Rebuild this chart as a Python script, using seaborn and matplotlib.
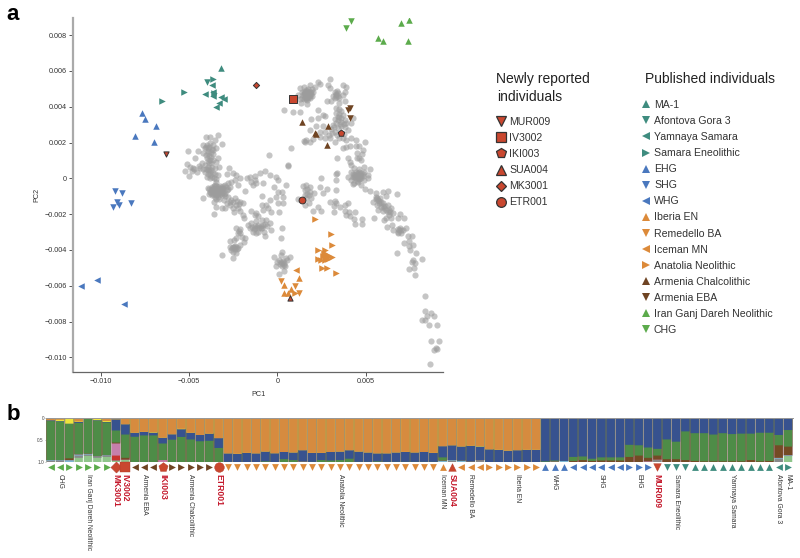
import matplotlib
matplotlib.use("Agg")
import matplotlib.pyplot as plt
from matplotlib.lines import Line2D
from matplotlib.ticker import FuncFormatter
import numpy as np
import pandas as pd
import seaborn as sns

# ---------- PCA values, in units of 0.001 ----------
grey_north = [(1.26,5.03),(1.48,5.12),(1.86,5.21),(2.10,5.12),(2.29,5.40),(2.39,5.27),(1.16,4.65),(1.30,4.41),(1.35,4.23),(1.67,4.13),
 (1.48,4.84),(1.60,4.93),(1.73,4.97),(1.82,4.84),(1.92,4.71),(2.01,4.84),(1.45,4.65),(1.54,4.56),(1.67,4.71),(1.78,4.60),(1.63,4.41),
 (1.86,4.47),(1.41,4.47),(1.56,4.78),(1.71,4.82),(1.75,4.47),(1.97,4.60),(1.62,4.62),(1.70,4.55),(1.58,4.70),(1.52,4.45),(1.80,4.72),(1.66,4.88),
 (2.99,5.53),(2.86,5.21),(2.95,5.03),(3.70,5.21),(3.89,5.08),(3.85,4.84),(3.23,4.84),(3.33,4.71),(3.14,4.60),(3.23,4.47),(3.42,4.60),
 (3.70,4.65),(3.04,4.34),(2.80,4.34),(3.48,4.23),(3.80,4.32),(3.36,4.90),(3.29,4.64),
 (1.55,4.85),(1.65,4.78),(1.72,4.68),(1.85,4.62),(1.50,4.72),(1.60,4.50),(1.70,4.38),(1.90,4.85),(1.40,4.80),(1.95,5.00),(3.30,4.55),(3.40,4.78),(3.50,4.50)]
grey_middle = [(0.39,3.82),(0.88,3.72),(1.30,3.72),(2.29,3.82),(3.33,3.95),(3.48,3.86),(3.61,3.78),(3.33,3.63),(2.57,3.54),(2.67,3.50),
 (2.29,3.39),(1.88,3.30),(3.23,3.32),(3.51,3.45),(3.70,3.54),(3.80,3.26),(3.61,3.17),(3.33,3.07),(3.14,2.98),(4.27,3.35),(4.17,3.07),
 (3.89,3.07),(3.80,2.89),(2.20,2.93),(2.57,2.93),(1.82,2.70),(2.39,2.61),(2.67,2.61),(3.04,2.74),(3.23,2.61),(3.98,2.70),(2.39,2.33),
 (2.67,2.24),(2.95,2.24),(3.23,2.05),(3.70,2.24),(3.89,2.14),(4.17,2.24),(4.42,2.14),(1.63,2.14),(1.82,2.05),(2.01,2.18),(1.54,2.05),
 (0.79,1.72),(0.60,0.73),(3.36,1.12),(4.98,2.01),(4.45,1.81),(4.64,1.81),(4.83,1.59),(3.70,1.72),(3.89,1.73),(4.08,1.81),(4.79,1.36),
 (4.49,1.40),(4.64,1.12),(4.49,1.12),(4.74,1.03),(3.98,1.12),(4.12,0.93),(4.17,0.75),(4.92,0.66),(5.24,0.53),
 (3.50,3.60),(3.60,3.40),(3.45,3.25),(3.40,3.45),(3.55,3.05),(3.75,3.05),(3.60,2.90),(3.45,2.80),(3.20,2.85),(3.10,2.55),(2.90,2.45),(3.35,2.40),(3.50,2.25),(3.75,2.50)]
grey_east = [(3.98,0.10),(4.17,0.38),(4.36,0.56),(4.64,0.51),(4.92,0.38),(5.11,0.19),(4.17,-0.09),(4.36,-0.27),(4.74,-0.37),(4.30,-0.30),
 (4.36,0.19),(4.55,0.28),(4.64,0.10),(4.45,0.00),(4.74,0.00),(4.55,-0.18),(4.27,0.10),(4.83,0.14),(4.42,0.38),(4.74,0.28),(4.60,-0.05),
 (4.92,-0.09),(5.11,0.00),(4.50,0.12),(4.58,0.20),(4.40,0.08),(4.68,0.18),
 (1.45,-0.43),(1.64,-0.37),(1.86,-0.50),(1.54,-0.65),(1.82,-0.74),(2.05,-0.80),(1.17,-1.17),(1.64,-1.12),(1.92,-1.12),(1.79,-1.40),
 (1.54,-1.49),(2.01,-1.81),(2.29,-1.58),(2.48,-1.81),(2.48,0.00),(2.39,-0.47),(2.58,-0.80),(2.80,-0.61),(3.29,0.24),(3.38,0.31),(3.33,-0.09),
 (3.29,-0.65),(2.99,-1.30),(3.23,-1.25),(3.33,-1.40),(3.18,-1.55),(3.52,-1.58),(3.80,-1.49),(3.99,-1.40),(3.20,-1.90),(3.80,-1.81),
 (4.04,-1.86),(3.89,-2.05),(4.08,-2.10),(4.38,-1.90),(4.36,-2.29),(4.38,-2.57),(4.77,-2.29),(4.77,-2.57),
 (4.45,0.25),(4.55,0.15),(4.35,0.05),(4.62,-0.02),(4.75,0.12),(4.48,-0.12),(4.30,0.25),(4.85,0.25),(4.60,0.35),(1.70,-0.60),(1.65,-0.85),(1.80,-0.95),(1.58,-0.95)]
grey_arc = [(4.98,-0.61),(5.26,-0.69),(5.55,-0.80),(5.99,-0.74),(6.26,-0.69),(6.77,-0.88),(6.15,-1.00),(5.40,-1.30),(5.55,-1.02),(5.68,-1.21),
 (5.81,-1.12),(5.77,-1.40),(5.96,-1.40),(5.62,-1.49),(5.87,-1.58),(6.05,-1.67),(6.24,-1.49),(6.43,-1.67),(6.24,-1.86),(6.52,-1.95),(5.68,-1.77),
 (5.96,-1.81),(6.34,-2.05),(6.15,-2.23),(6.05,-2.33),(6.43,-2.23),(5.49,-2.20),(6.81,-2.23),(6.96,-1.99),(7.18,-2.20),(6.19,-2.70),(6.47,-2.60),
 (6.52,-2.88),(6.81,-2.98),(6.96,-2.79),(7.09,-2.88),(7.28,-2.79),(6.81,-3.07),(7.00,-3.03),(7.37,-3.20),(7.60,-3.20),(7.43,-3.48),(7.18,-3.59),
 (7.65,-3.72),(7.46,-3.78),(7.52,-4.00),(7.86,-4.19),(6.77,-4.19),(7.69,-4.56),(7.80,-4.74),(8.18,-4.50),(7.75,-4.99),(7.46,-5.08),(7.76,-5.40),
 (7.60,-4.65),(8.37,-6.60),(8.37,-7.40),(8.67,-7.50),(8.87,-7.68),(8.46,-7.68),(8.16,-7.90),(8.35,-7.90),(8.55,-8.20),(9.04,-8.20),(8.67,-9.10),
 (9.12,-9.10),(8.97,-9.50),(8.86,-9.58),(9.04,-9.52),(8.66,-10.39),
 (5.75,-1.25),(5.85,-1.30),(5.65,-1.10),(5.95,-1.55),(6.10,-1.55),(6.15,-1.75),(6.30,-1.75),(6.35,-1.90),(5.55,-1.15),(6.90,-2.90),(6.85,-2.85),(7.02,-2.90)]
grey_west = [(-4.07,2.33),(-3.82,2.29),(-3.39,2.42),(-3.54,2.14),(-3.11,1.92),(-5.08,1.53),(-4.48,1.53),(-4.20,1.86),(-4.01,1.86),(-3.82,1.96),
 (-3.63,1.86),(-4.11,1.68),(-3.92,1.68),(-3.73,1.64),(-3.50,1.68),(-4.20,1.40),(-3.92,1.40),(-3.63,1.34),(-3.35,1.12),(-3.45,0.93),(-4.01,1.12),
 (-3.82,1.03),(-3.63,1.03),(-4.69,1.12),(-5.14,0.79),(-4.95,0.66),(-4.76,0.60),(-5.24,0.41),(-4.99,0.14),(-4.58,0.38),(-4.29,0.84),(-4.39,0.56),
 (-4.11,0.75),(-3.92,0.66),(-3.73,0.66),(-3.54,0.56),(-3.30,0.66),(-4.11,0.38),(-3.82,0.38),(-3.63,0.28),(-4.01,0.10),(-3.82,0.00),(-3.58,0.00),
 (-3.35,0.19),(-2.73,0.60),(-2.88,0.23),(-3.45,-0.18),(-3.92,-0.55),(-3.73,-0.46),(-3.54,-0.37),(-3.35,-0.46),(-3.16,-0.55),(-2.98,-0.37),
 (-2.79,-0.28),(-3.82,-0.74),(-3.63,-0.74),(-3.45,-0.74),(-3.26,-0.74),(-3.07,-0.74),(-2.88,-0.65),(-2.69,-0.46),(-3.73,-0.93),(-3.54,-1.02),
 (-3.35,-1.02),(-3.16,-0.93),(-2.98,-0.96),(-3.45,-0.55),(-3.26,-0.55),(-3.63,-0.55),(-3.07,-0.55),(-4.20,-1.07),(-3.58,-1.30),(-3.16,-1.63),
 (-3.60,-1.99),(-3.45,-1.58),(-2.88,-1.39),(-2.79,-1.02),(-2.60,-1.21),(-2.41,-1.11),(-2.13,-1.30),(-1.94,-1.39),(-2.32,-1.48),(-2.50,-1.67),
 (-2.69,-1.48),(-2.98,-1.67),(-2.45,-1.89),(-1.94,-2.04),(-1.88,-2.23),(-2.22,-1.63),(-2.13,-1.82),(-3.50,-0.65),(-3.40,-0.85),(-3.20,-0.65),(-3.55,-0.80),
 (-4.05,1.75),(-3.95,1.55),(-3.85,1.75),(-3.75,1.50),(-3.65,1.60),(-3.85,1.25),(-3.75,1.20),(-4.05,1.30),(-3.95,0.95),(-3.85,0.85),(-3.75,0.85),
 (-4.20,0.55),(-4.05,0.55),(-3.95,0.45),(-3.85,0.55),(-3.75,0.45),(-3.95,0.25),(-3.80,0.20),(-3.70,0.10),(-3.55,0.25),(-3.50,-0.05),(-4.70,0.55),(-4.85,0.40),(-4.45,0.70),
 (-3.85,-0.62),(-3.75,-0.65),(-3.65,-0.62),(-3.55,-0.60),(-3.40,-0.62),(-3.30,-0.60),(-3.15,-0.65),(-3.75,-0.80),(-3.65,-0.85),(-3.55,-0.88),(-3.45,-0.92),
 (-3.35,-0.90),(-3.25,-0.85),(-3.15,-0.80),(-3.05,-0.85),(-2.95,-0.80),(-3.85,-0.85),(-3.60,-0.45),(-3.45,-0.40),(-3.25,-0.40),(-3.10,-0.42),(-2.90,-0.50),
 (-2.80,-0.60),(-3.50,-1.15),(-3.30,-1.18),(-3.00,-1.20),(-2.70,-1.30),(-2.50,-1.30),(-2.30,-1.25),(-2.20,-1.45)]
grey_centre = [(-2.50,0.28),(-2.32,0.19),(-2.13,0.00),(-2.41,-0.09),(-2.60,-0.18),(-2.22,-0.37),(-1.75,0.00),(-1.56,0.10),(-1.28,0.15),(-1.00,0.32),
 (-0.68,0.41),(-0.43,0.19),(-0.06,0.10),(0.04,-0.09),(-0.19,-0.50),(-1.28,-0.09),(-1.47,-0.18),(-1.38,-0.37),(-1.19,-0.28),(-0.81,-0.28),(-1.81,-0.68),
 (0.51,-0.37),(0.04,-0.74),(0.26,-0.74),(-0.06,-1.02),(0.32,-1.02),(0.04,-1.39),(0.32,-1.39),(-0.90,-0.96),(-0.40,-1.21),(-0.90,-1.48),(-0.62,-1.48),
 (-1.19,-1.95),(-1.51,-1.82),(-1.28,-2.04),(-0.81,-1.76),(-0.53,-1.67),(-0.34,-1.86),(0.07,-1.89),(-1.09,-2.08),(-1.66,-2.60),(-1.47,-2.51),(-1.19,-2.41),
 (-0.90,-2.32),(-0.62,-2.32),(-0.43,-2.51),(-1.56,-2.79),(-1.28,-2.69),(-1.09,-2.60),(-0.81,-2.60),(-0.57,-2.69),(-0.38,-2.88),(-1.38,-2.97),(-1.09,-2.97),
 (-0.75,-2.97),(-0.68,-3.20),(-1.19,-3.07),(-0.94,-2.79),(0.26,-2.79),(0.19,-3.31),(-2.32,-2.79),(-2.13,-2.82),(-2.22,-3.07),(-2.03,-3.25),(-2.32,-3.34),
 (-1.85,-3.34),(-1.88,-3.57),(-2.69,-3.49),(-2.45,-3.47),(-2.69,-3.81),(-2.50,-3.81),(-2.32,-3.81),(-2.13,-3.75),(-2.60,-3.99),(-2.41,-3.94),(-2.22,-3.90),
 (-2.50,-4.13),(-2.35,-4.18),(-3.11,-4.31),(-2.50,-4.46),(0.26,-4.09),(0.19,-4.31),(-0.19,-4.40),(0.51,-4.46),(0.70,-4.42),(0.00,-4.65),(0.19,-4.68),
 (0.38,-4.74),(0.56,-4.55),(-0.06,-4.87),(0.23,-4.92),(0.41,-4.92),(0.07,-5.35),(0.38,-5.15),(-0.49,1.31),(0.60,0.71),(1.51,2.11),
 (-1.25,-2.75),(-1.15,-2.70),(-1.05,-2.75),(-0.95,-2.65),(-0.85,-2.80),(-0.70,-2.55),(-1.30,-2.85),(-1.45,-2.70),(-2.45,-3.85),(-2.40,-3.80),(-2.55,-3.90),
 (-2.30,-3.95),(0.15,-4.80),(0.25,-4.75),(0.30,-4.60),(0.10,-4.55),(0.35,-4.85),(-2.20,-2.95),(-2.10,-3.05)]

published_names = ["MA-1","Afontova Gora 3","Yamnaya Samara","Samara Eneolithic","EHG","SHG","WHG","Iberia EN",
                   "Remedello BA","Iceman MN","Anatolia Neolithic","Armenia Chalcolithic","Armenia EBA",
                   "Iran Ganj Dareh Neolithic","CHG"]
published_points = {
 "MA-1": [(-3.20,6.14)],
 "Afontova Gora 3": [(-4.01,5.40)],
 "Yamnaya Samara": [(-4.12,4.71),(-3.64,4.84),(-3.64,4.60),(-3.73,5.21),(-3.02,4.41),(-3.20,4.52),(-3.32,4.22),(-3.50,4.00)],
 "Samara Eneolithic": [(-3.67,5.53),(-5.28,4.80),(-6.55,4.32),(-3.60,4.75)],
 "EHG": [(-7.68,3.63),(-7.48,3.33),(-6.89,2.94),(-8.08,2.35),(-6.99,2.03)],
 "SHG": [(-9.19,-0.71),(-8.78,-0.80),(-9.06,-1.32),(-8.97,-1.51),(-9.29,-1.62),(-8.29,-1.40)],
 "WHG": [(-11.10,-6.00),(-10.19,-5.70),(-8.70,-7.00)],
 "Iberia EN": [(1.20,-5.56),(0.39,-5.95),(0.79,-6.16),(0.36,-6.38),(0.60,-6.38)],
 "Remedello BA": [(0.19,-5.71),(0.99,-6.01),(1.22,-6.42)],
 "Iceman MN": [(1.07,-5.10)],
 "Anatolia Neolithic": [(2.13,-2.29),(3.01,-3.09),(3.10,-3.70),(2.29,-4.00),(2.69,-4.00),(2.29,-4.50),(2.52,-4.99),(2.80,-4.99),(3.31,-5.30),
                        (3.10,-4.41),(2.92,-4.34),(2.73,-4.22),(2.58,-4.34),(2.48,-4.56),(2.67,-4.56),(2.86,-4.52),(2.77,-4.41),(2.62,-4.15),(0.98,-6.38)],
 "Armenia Chalcolithic": [(1.39,3.15),(2.88,2.94),(2.11,2.53),(2.20,2.46),(2.79,1.84)],
 "Armenia EBA": [(3.99,3.82),(4.08,3.94),(4.08,3.39)],
 "Iran Ganj Dareh Neolithic": [(7.47,8.86),(6.98,8.66),(5.67,7.85),(5.97,7.65),(7.38,7.65)],
 "CHG": [(4.18,8.79),(3.88,8.38)],
}
new_names = ["MUR009","IV3002","IKI003","SUA004","MK3001","ETR001"]
new_pc1 = [-6.29,0.88,3.59,0.69,-1.21,1.39]
new_pc2 = [1.37,4.41,2.51,-6.70,5.21,-1.19]

# ---------- ADMIXTURE proportions, 80 individuals ----------
orange = [.06,.05,.01,.09,.03,.03,.08,.04,.15,.34,.32,.33,.45,.37,.25,.34,.39,.36,.46,.80,.81,.79,.80,.76,
          .79,.77,.78,.73,.79,.79,.77,.76,.73,.76,.78,.80,.80,.78,.76,.78,.77,.79,.64,.62,.64,.63,.64,
          .71,.72,.74,.73,.72,.72]+[0]*27
blue = [.02,.01,0,.02,0,.01,.01,.25,.23,.09,.08,.06,.13,.12,.17,.15,.14,.16,.22,.19,.19,.21,.20,.22,
        .20,.16,.17,.25,.20,.16,.19,.19,.19,.23,.21,.18,.19,.21,.22,.21,.22,.20,.25,.33,.31,.35,.30,
        .29,.28,.26,.27,.28,.28,.98,.96,.95,.88,.87,.92,.89,.89,.89,.61,.62,.67,.70,.49,.54,.31,
        .35,.35,.38,.35,.37,.36,.36,.34,.34,.39,.28]
green = [.87,.84,.78,.70,.76,.79,.73,.27,.52,.57,.60,.60,.37,.50,.56,.51,.47,.48,.32,.01,0,0,0,.02,
         0,.07,.05,0,.01,.05,.04,.05,.08,.01,.01,.02,.01,.01,.01,.01,.01,.01,.07,0,0,0,0,
         0,0,0,0,0,0,.02,.02,0,.09,.08,.05,.07,.07,.07,.27,.23,.23,.15,.44,.39,.64,
         .62,.63,.60,.63,.61,.62,.59,.64,.63,.23,.37]
yellow_bars = {2:.03,3:.13,4:.01,6:.03,7:.02,12:.01,15:.01,47:.01}
brown_bars = {3:.04,8:.02,9:.04,57:.03,58:.05,59:.03,60:.04,61:.04,62:.04,63:.12,64:.15,65:.08,66:.09,67:.07,68:.07,69:.05,
              70:.03,71:.02,72:.02,73:.02,74:.02,75:.02,76:.05,77:.02,78:.03,79:.28,80:.19}
pink_bars = {8:.27,13:.05,28:.02,46:.02,65:.02}
red_bars = {8:.11}
lightblue_bars = {1:.02,2:.01,3:.05,4:.03,5:.02,7:.02,43:.04,44:.02,45:.04,55:.02,56:.03,79:.02,80:.02}
grey_bars = {1:.03,2:.04,4:.05,5:.03,6:.04,7:.02,44:.03,47:.05,66:.06,79:.08}
lightgreen_bars = {4:.10,5:.14,6:.10,7:.12,8:.04,9:.06,80:.14}

def expand(d):
    return [d.get(i + 1, 0) for i in range(80)]

components = [("orange",orange,"#D68B3F"),("yellow",expand(yellow_bars),"#EFE43C"),("blue",blue,"#37528F"),
              ("green",green,"#4E8C47"),("brown",expand(brown_bars),"#744B25"),("pink",expand(pink_bars),"#C67FAB"),
              ("red",expand(red_bars),"#C8332E"),("lightblue",expand(lightblue_bars),"#7EB8D4"),
              ("grey",expand(grey_bars),"#87888A"),("lightgreen",expand(lightgreen_bars),"#8FC58B")]

# group of each bar, left to right
bar_groups = (["CHG"]*2+["CHGr"]*1+["Iran"]*4+["MK3001","IV3002"]+["Armenia EBA"]*3+["IKI003"]+["Armenia Chalcolithic"]*5+["ETR001"]
              +["Anatolia Neolithic"]*23+["Iceman MN","SUA004"]+["Remedello BA"]*3+["Iberia EN"]*6
              +["WHG"]*3+["SHG"]*6+["EHG"]*3+["MUR009"]+["Samara Eneolithic"]*3+["Yamnaya Samara"]*9
              +["Afontova Gora 3","MA-1"])

group_labels = [("CHG",1),("Iran Ganj Dareh Neolithic",4),("MK3001",7),("IV3002",8),("Armenia EBA",10),("IKI003",12),
                ("Armenia Chalcolithic",15),("ETR001",18),("Anatolia Neolithic",31),("Iceman MN",42),("SUA004",43),
                ("Remedello BA",45),("Iberia EN",50),("WHG",54),("SHG",59),("EHG",63),("MUR009",65),
                ("Samara Eneolithic",67),("Yamnaya Samara",73),("Afontova Gora 3",78),("MA-1",79)]

# ---------- styles ----------
TEAL, BLUE, ORANGE, BROWN, GREEN, NEWRED = "#3F8C7F", "#4A78BE", "#DC8A3A", "#6F4423", "#5CAB4C", "#C9472F"
pub_style = {"MA-1":("^",TEAL),"Afontova Gora 3":("v",TEAL),"Yamnaya Samara":("<",TEAL),"Samara Eneolithic":(">",TEAL),
             "EHG":("^",BLUE),"SHG":("v",BLUE),"WHG":("<",BLUE),"Iberia EN":("^",ORANGE),"Remedello BA":("v",ORANGE),
             "Iceman MN":("<",ORANGE),"Anatolia Neolithic":(">",ORANGE),"Armenia Chalcolithic":("^",BROWN),
             "Armenia EBA":("v",BROWN),"Iran Ganj Dareh Neolithic":("^",GREEN),"CHG":("v",GREEN)}
new_style = {"MUR009":("v",14,6.5),"IV3002":("s",34,7),"IKI003":("p",24,7),"SUA004":("^",14,6.5),"MK3001":("D",10,5.5),"ETR001":("o",24,7)}
bar_marker = {"CHG":("<",GREEN),"CHGr":(">",GREEN),"Iran":(">",GREEN),"Armenia EBA":("<",BROWN),"Armenia Chalcolithic":(">",BROWN),
              "Anatolia Neolithic":("v",ORANGE),"Iceman MN":("^",ORANGE),"Remedello BA":("<",ORANGE),"Iberia EN":(">",ORANGE),
              "WHG":("^",BLUE),"SHG":("<",BLUE),"EHG":(">",BLUE),"Samara Eneolithic":("v",TEAL),"Yamnaya Samara":("^",TEAL),
              "Afontova Gora 3":("<",TEAL),"MA-1":(">",TEAL)}

sns.set_theme(style="white")
plt.rcParams["font.family"] = ["Liberation Sans", "DejaVu Sans"]
W, H = 800, 558
fig = plt.figure(figsize=(W/100, H/100), dpi=100)

def box(l, t, r, b):
    return [l/W, 1-b/H, (r-l)/W, (b-t)/H]

# ---------- panel a ----------
ax = fig.add_axes(box(73, 18, 443, 372))
grey_all = grey_north + grey_middle + grey_east + grey_arc + grey_west + grey_centre
gdf = pd.DataFrame(grey_all, columns=["PC1","PC2"]) * 1e-3
sns.scatterplot(data=gdf, x="PC1", y="PC2", color="#9C9C9C", alpha=0.58, s=20, linewidth=0, ax=ax, zorder=2)
for name in published_names:
    m, c = pub_style[name]
    d = pd.DataFrame(published_points[name], columns=["PC1","PC2"]) * 1e-3
    sns.scatterplot(data=d, x="PC1", y="PC2", marker=m, color=c, s=22, linewidth=0, ax=ax, zorder=3)
for n, x, y in zip(new_names, new_pc1, new_pc2):
    m, s, _ = new_style[n]
    sns.scatterplot(x=[x*1e-3], y=[y*1e-3], marker=m, color=NEWRED, s=s, edgecolor="#333333", linewidth=0.7, ax=ax, zorder=4)
ax.set_xlim(-0.01157, 0.00937)
ax.set_ylim(-0.01082, 0.00896)
ax.set_xticks([-0.010, -0.005, 0, 0.005])
ax.set_yticks([0.008, 0.006, 0.004, 0.002, 0, -0.002, -0.004, -0.006, -0.008, -0.010])
fmt = FuncFormatter(lambda v, p: "0" if abs(v) < 1e-9 else f"{v:.3f}".replace("-", "\u2212"))
ax.xaxis.set_major_formatter(fmt)
ax.yaxis.set_major_formatter(fmt)
ax.tick_params(axis="both", length=3, width=0.7, labelsize=5.2, color="#555555", labelcolor="#333333", pad=1.5,
               left=True, bottom=True)
ax.set_xlabel("PC1", fontsize=5.2, color="#333333", labelpad=4)
ax.set_ylabel("PC2", fontsize=5.2, color="#333333", labelpad=3)
for s in ["top", "right"]:
    ax.spines[s].set_visible(False)
ax.spines["left"].set_color("#AAAAAA"); ax.spines["left"].set_linewidth(1.6)
ax.spines["bottom"].set_color("#666666"); ax.spines["bottom"].set_linewidth(0.9)

# legends
new_handles = [Line2D([], [], linestyle="", marker=new_style[n][0], markersize=new_style[n][2], markerfacecolor=NEWRED,
                      markeredgecolor="#333333", markeredgewidth=0.9) for n in new_names]
leg1 = fig.legend(new_handles, new_names, loc="upper left", bbox_to_anchor=(496/W, 1-117/H), frameon=False, fontsize=7.6,
                  labelspacing=0.575, handletextpad=0.28, handlelength=0.95, borderpad=0, borderaxespad=0, labelcolor="#333333")
pub_handles = [Line2D([], [], linestyle="", marker=pub_style[n][0], markersize=5.2, markerfacecolor=pub_style[n][1],
                      markeredgewidth=0) for n in published_names]
leg2 = fig.legend(pub_handles, published_names, loc="upper left", bbox_to_anchor=(639/W, 1-100/H), frameon=False, fontsize=7.6,
                  labelspacing=0.575, handletextpad=0.02, handlelength=1.4, borderpad=0, borderaxespad=0, labelcolor="#333333")
fig.text(496/W, 1-79/H, "Newly reported", fontsize=10, color="#222222", va="center")
fig.text(497/W, 1-97/H, "individuals", fontsize=10, color="#222222", va="center")
fig.text(645/W, 1-79/H, "Published individuals", fontsize=10, color="#222222", va="center")
fig.text(6/W, 1-14/H, "a", fontsize=16, fontweight="bold", color="black", va="center")
fig.text(7/W, 1-414/H, "b", fontsize=16, fontweight="bold", color="black", va="center")

# ---------- panel b ----------
axb = fig.add_axes(box(46, 417.5, 792.7, 462.3))
vals = np.array([c[1] for c in components], dtype=float)
vals = vals / vals.sum(axis=0)
cum = vals.cumsum(axis=0)
xs = np.arange(80)
for i in range(len(components) - 1, -1, -1):
    sns.barplot(x=xs, y=cum[i], color=components[i][2], saturation=1, width=0.9, ax=axb, linewidth=0, native_scale=True, zorder=2)
for patch in axb.patches:
    patch.set_snap(False)
axb.set_xlim(-0.5, 79.5)
axb.set_ylim(1, 0)
axb.set_yticks([0, 0.5, 1.0])
axb.set_yticklabels(["0", "0.5", "1.0"])
axb.set_xticks([])
axb.set_xlabel(""); axb.set_ylabel("")
axb.tick_params(axis="y", length=1, width=0.4, labelsize=3.4, pad=0.5, color="#777777", labelcolor="#444444", left=True)
for s in ["right", "bottom", "left"]:
    axb.spines[s].set_visible(False)
axb.spines["top"].set_color("#999999"); axb.spines["top"].set_linewidth(0.7)

marker_y = 1.105
for i, g in enumerate(bar_groups):
    if g in new_style:
        m, _, ms = new_style[g]
        sns.scatterplot(x=[i], y=[marker_y], marker=m, color=NEWRED, s={"s":50,"D":32}.get(m, 48 if m not in "^v" else 30),
                        edgecolor="#B03A28", linewidth=0.3, ax=axb, clip_on=False, zorder=4)
    else:
        m, c = bar_marker[g]
        sns.scatterplot(x=[i], y=[marker_y], marker=m, color=c, s=24, linewidth=0, ax=axb, clip_on=False, zorder=4)
axb.set_xlim(-0.5, 79.5)
axb.set_ylim(1, 0)
axb.set_xlabel(""); axb.set_ylabel("")
for lab, idx in group_labels:
    isnew = lab in new_names
    axb.text(idx, 1.27, lab, rotation=270, ha="center", va="top", clip_on=False,
             fontsize=6.2 if isnew else 4.9, color="#C4182B" if isnew else "#333333",
             fontweight="bold" if isnew else "normal")

fig.savefig("out.png", dpi=100)
